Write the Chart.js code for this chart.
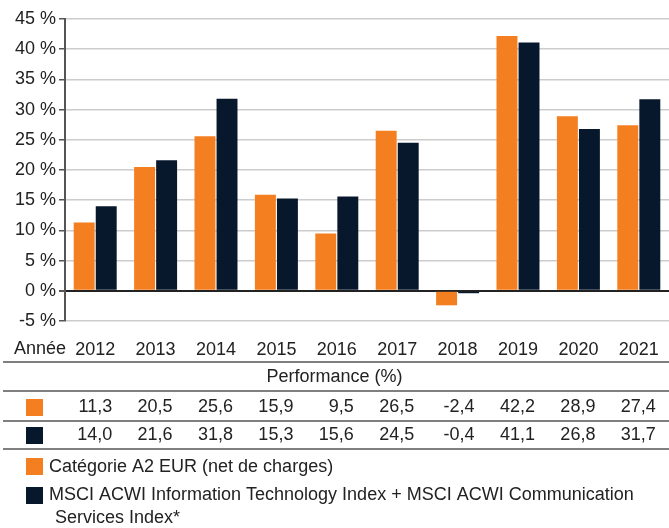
<!DOCTYPE html>
<html lang="fr">
<head>
    <meta charset="UTF-8">
    <title>Performance annuelle</title>
    <script src="https://cdn.jsdelivr.net/npm/chart.js"></script>
    <style>
        body {
            margin: 0;
            padding: 0;
            background: #fff;
        }
        canvas {
            display: block;
        }
    </style>
</head>
<body>
    <canvas id="perfChart" width="669" height="528"></canvas>

    <script>
        const annees = ['2012', '2013', '2014', '2015', '2016', '2017', '2018', '2019', '2020', '2021'];
        const categorieA2 = [11.3, 20.5, 25.6, 15.9, 9.5, 26.5, -2.4, 42.2, 28.9, 27.4];
        const indiceMsci = [14.0, 21.6, 31.8, 15.3, 15.6, 24.5, -0.4, 41.1, 26.8, 31.7];
        const nomCategorie = 'Catégorie A2 EUR (net de charges)';
        const nomIndice = ['MSCI ACWI Information Technology Index + MSCI ACWI Communication', 'Services Index*'];

        const orange = '#f47f20';
        const marine = '#08182c';
        const police = '"Liberation Sans", Arial, sans-serif';

        function fmt(v) {
            return v.toFixed(1).replace('.', ',');
        }

        // draws the table and legend under the chart
        const tablePlugin = {
            id: 'tablePlugin',
            afterDraw(chart) {
                const ctx = chart.ctx;
                const x = chart.scales.x;
                const W = chart.width;
                ctx.save();
                ctx.fillStyle = '#222';
                ctx.font = '18px ' + police;
                ctx.textBaseline = 'middle';
                ctx.textAlign = 'left';
                ctx.fillText('Année', 14, 349);

                ctx.strokeStyle = '#555';
                ctx.lineWidth = 1.5;
                [362, 391, 421, 449].forEach(y => {
                    ctx.beginPath();
                    ctx.moveTo(3, y);
                    ctx.lineTo(W, y);
                    ctx.stroke();
                });

                ctx.textAlign = 'center';
                ctx.fillText('Performance (%)', W / 2, 377);

                const rows = [[categorieA2, orange, 407], [indiceMsci, marine, 435]];
                rows.forEach(([vals, col, y]) => {
                    ctx.fillStyle = col;
                    ctx.fillRect(26, y - 8, 17, 17);
                    ctx.fillStyle = '#222';
                    ctx.textAlign = 'right';
                    vals.forEach((v, i) => {
                        ctx.fillText(fmt(v), x.getPixelForValue(i) + 17, y);
                    });
                });

                // legend
                ctx.textAlign = 'left';
                ctx.fillStyle = orange;
                ctx.fillRect(26, 458, 17, 17);
                ctx.fillStyle = marine;
                ctx.fillRect(26, 487, 17, 17);
                ctx.fillStyle = '#222';
                ctx.fillText(nomCategorie, 49, 467);
                ctx.fillText(nomIndice[0], 49, 495);
                ctx.fillText(nomIndice[1], 55, 518);
                ctx.restore();
            }
        };

        const ctx = document.getElementById('perfChart').getContext('2d');
        new Chart(ctx, {
            type: 'bar',
            data: {
                labels: annees,
                datasets: [{
                    label: nomCategorie,
                    data: categorieA2,
                    backgroundColor: orange,
                    categoryPercentage: 0.73,
                    barPercentage: 0.95
                }, {
                    label: nomIndice.join(' '),
                    data: indiceMsci,
                    backgroundColor: marine,
                    categoryPercentage: 0.73,
                    barPercentage: 0.95
                }]
            },
            options: {
                responsive: false,
                animation: false,
                layout: {
                    padding: { top: 19, right: 0, bottom: 166, left: 0 }
                },
                plugins: {
                    legend: { display: false },
                    tooltip: { enabled: false }
                },
                scales: {
                    x: {
                        grid: { display: false },
                        border: { display: false },
                        ticks: {
                            color: '#222',
                            padding: 10,
                            font: { family: police, size: 18 }
                        },
                        afterFit(scale) { scale.height = 41; }
                    },
                    y: {
                        min: -5,
                        max: 45,
                        ticks: {
                            stepSize: 5,
                            color: '#222',
                            padding: 3,
                            font: { family: police, size: 18 },
                            callback: v => v + ' %'
                        },
                        grid: {
                            color: ctx => ctx.tick && ctx.tick.value === 0 ? '#222' : '#cccccc',
                            lineWidth: ctx => ctx.tick && ctx.tick.value === 0 ? 2 : 1.5,
                            tickColor: '#555',
                            tickLength: 6
                        },
                        border: { color: '#555', width: 2 },
                        afterFit(scale) { scale.width = 65; }
                    }
                }
            },
            plugins: [tablePlugin]
        });
    </script>
</body>
</html>
